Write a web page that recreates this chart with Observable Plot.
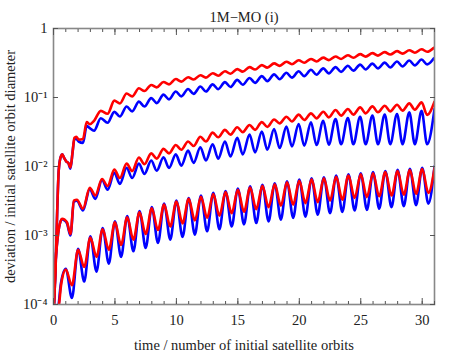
<!DOCTYPE html>
<html><head><meta charset="utf-8">
<script src="https://cdn.jsdelivr.net/npm/d3@7"></script>
<script src="https://cdn.jsdelivr.net/npm/@observablehq/plot@0.6"></script>
<style>body{margin:0;background:#fff}</style>
</head><body><div id="chart"></div>
<script>
const title = "1M\u2212MO (i)";
const xLabel = "time / number of initial satellite orbits";
const yLabel = "deviation / initial satellite orbit diameter";
const xMajorTicks = [0, 5, 10, 15, 20, 25, 30];
const xMinorTicks = d3.range(0, 32);
const yTicks = [1e-4, 1e-3, 1e-2, 1e-1, 1];
const yTickLabels = ["10\u207B\u2074", "10\u207B\u00B3", "10\u207B\u00B2", "10\u207B\u00B9", "1"];

// ---- top pair ----
const topOnsetT = [0.03, 0.16, 0.3, 0.43, 0.6, 0.72, 0.85, 1.05, 1.2, 1.38, 1.55, 1.7, 1.85, 2.05, 2.4, 2.7, 2.95, 3.3, 3.85];
const topRedOnset = [1e-4, 3e-4, 2.2e-3, 9e-3, 0.014, 0.015, 0.0135, 0.0118, 0.0113, 0.0097, 0.016, 0.026, 0.027, 0.0245, 0.025, 0.044, 0.041, 0.046, 0.064];
const topBlueOnset = [1e-4, 3e-4, 2.2e-3, 9e-3, 0.014, 0.015, 0.0135, 0.0118, 0.0113, 0.0093, 0.016, 0.025, 0.025, 0.023, 0.022, 0.039, 0.036, 0.033, 0.05];
const topPeakOrbits = d3.range(5, 32);
const topTroughOrbits = d3.range(4, 31);
const topRedPeaks = [0.09, 0.114, 0.136, 0.152, 0.168, 0.185, 0.197, 0.21, 0.225, 0.24, 0.258, 0.276, 0.295, 0.312, 0.33, 0.347, 0.362, 0.378, 0.393, 0.41, 0.425, 0.44, 0.455, 0.47, 0.485, 0.50, 0.525];
const topRedTroughs = [0.058, 0.082, 0.104, 0.124, 0.14, 0.155, 0.17, 0.182, 0.194, 0.207, 0.221, 0.237, 0.254, 0.271, 0.287, 0.304, 0.319, 0.333, 0.348, 0.362, 0.377, 0.391, 0.405, 0.419, 0.432, 0.446, 0.46];
const topBluePeaks = [0.062, 0.074, 0.087, 0.098, 0.11, 0.122, 0.133, 0.144, 0.155, 0.167, 0.18, 0.192, 0.204, 0.216, 0.228, 0.24, 0.252, 0.264, 0.276, 0.288, 0.30, 0.31, 0.32, 0.332, 0.343, 0.355, 0.37];
const topBlueTroughs = [0.043, 0.053, 0.063, 0.074, 0.083, 0.094, 0.104, 0.113, 0.122, 0.132, 0.142, 0.153, 0.163, 0.173, 0.184, 0.194, 0.204, 0.214, 0.224, 0.235, 0.245, 0.255, 0.264, 0.272, 0.282, 0.292, 0.302];

// ---- middle pair ----
const midOnsetT = [0.04, 0.16, 0.3, 0.45, 0.7, 0.9, 1.1, 1.38, 1.66, 1.9];
const midRedOnset = [1e-4, 3.9e-4, 8e-4, 1.3e-3, 1.75e-3, 1.7e-3, 1.55e-3, 1.05e-3, 3.2e-3, 3.3e-3];
const midBlueOnset = [1e-4, 3.9e-4, 8e-4, 1.3e-3, 1.72e-3, 1.65e-3, 1.5e-3, 1.0e-3, 3.1e-3, 3.2e-3];
const midPeakOrbits = d3.range(3, 31);
const midTroughOrbits = d3.range(2, 31);
const midRedPeaks = [4.9e-3, 6.6e-3, 9e-3, 0.011, 0.0135, 0.0155, 0.018, 0.0205, 0.023, 0.027, 0.031, 0.034, 0.037, 0.040, 0.044, 0.048, 0.0527, 0.0564, 0.0589, 0.0623, 0.0659, 0.0682, 0.0719, 0.0743, 0.076, 0.0787, 0.0822, 0.0849];
const midRedTroughs = [2.45e-3, 3.8e-3, 5.2e-3, 6.8e-3, 8.6e-3, 0.0108, 0.013, 0.0155, 0.0175, 0.0198, 0.023, 0.0265, 0.029, 0.0315, 0.034, 0.0375, 0.0422, 0.045, 0.0472, 0.0499, 0.0515, 0.0546, 0.0564, 0.0589, 0.061, 0.063, 0.0645, 0.0666, 0.056];
const midBluePeaks = [4.7e-3, 6.4e-3, 8.1e-3, 9.6e-3, 0.011, 0.0122, 0.0136, 0.015, 0.017, 0.019, 0.021, 0.023, 0.026, 0.029, 0.032, 0.035, 0.0378, 0.0413, 0.0436, 0.0461, 0.0489, 0.0505, 0.0527, 0.0546, 0.0564, 0.0577, 0.061, 0.0644];
const midBlueTroughs = [2.3e-3, 3.4e-3, 4.6e-3, 5.6e-3, 6.8e-3, 7.8e-3, 8.7e-3, 9.5e-3, 0.0103, 0.0113, 0.0122, 0.013, 0.014, 0.015, 0.016, 0.0175, 0.0185, 0.0195, 0.020, 0.0205, 0.0207, 0.021, 0.021, 0.021, 0.021, 0.021, 0.021, 0.021, 0.021];
const midEndT = [31];
const midRedEnd = [0.087];
const midBlueEnd = [0.068];

// ---- bottom pair ----
const botRedOnsetT = [0.33, 0.45, 0.63];
const botBlueOnsetT = [0.3, 0.42, 0.6];
const botRedOnset = [7e-5, 1e-4, 2e-4];
const botBlueOnset = [7e-5, 1e-4, 2e-4];
const botPeakOrbits = d3.range(1, 32);
const botTroughOrbits = d3.range(1, 31);
const botRedPeaks = [3.2e-4, 6.2e-4, 9.3e-4, 1.23e-3, 1.55e-3, 1.84e-3, 2.17e-3, 2.48e-3, 2.8e-3, 3.1e-3, 3.4e-3, 3.65e-3, 4.0e-3, 4.25e-3, 4.6e-3, 4.95e-3, 5.25e-3, 5.5e-3, 5.9e-3, 6.2e-3, 6.5e-3, 6.75e-3, 7.1e-3, 7.4e-3, 7.7e-3, 8.0e-3, 8.3e-3, 8.6e-3, 8.9e-3, 9.2e-3, 9.4e-3];
const botBluePeaks = [3.3e-4, 6.4e-4, 9.7e-4, 1.28e-3, 1.61e-3, 1.91e-3, 2.26e-3, 2.58e-3, 2.9e-3, 3.2e-3, 3.5e-3, 3.8e-3, 4.15e-3, 4.4e-3, 4.8e-3, 5.15e-3, 5.45e-3, 5.7e-3, 6.1e-3, 6.45e-3, 6.75e-3, 7.0e-3, 7.4e-3, 7.7e-3, 8.0e-3, 8.3e-3, 8.6e-3, 8.95e-3, 9.25e-3, 9.55e-3, 1.0e-2];
const botRedTroughs = [1.9e-4, 3.5e-4, 4.9e-4, 6.2e-4, 7.3e-4, 8.7e-4, 1.05e-3, 1.2e-3, 1.35e-3, 1.5e-3, 1.65e-3, 1.8e-3, 1.93e-3, 2.1e-3, 2.2e-3, 2.4e-3, 2.57e-3, 2.7e-3, 2.8e-3, 2.95e-3, 3.05e-3, 3.2e-3, 3.3e-3, 3.5e-3, 3.6e-3, 3.7e-3, 3.8e-3, 3.9e-3, 4.0e-3, 4.15e-3];
const botBlueTroughs = [1.24e-4, 2.15e-4, 3.0e-4, 3.9e-4, 4.9e-4, 5.9e-4, 6.6e-4, 7.8e-4, 8.7e-4, 9.5e-4, 1.03e-3, 1.15e-3, 1.23e-3, 1.35e-3, 1.45e-3, 1.52e-3, 1.6e-3, 1.7e-3, 1.8e-3, 1.88e-3, 2.0e-3, 2.1e-3, 2.2e-3, 2.3e-3, 2.35e-3, 2.45e-3, 2.57e-3, 2.66e-3, 2.75e-3, 2.9e-3];

// phase of extrema within an orbit
const phase = {top: {peak: -0.05, trough: 0.4}, mid: {peak: -0.05, trough: 0.4}, bot: {peak: 0, trough: 0.5}};

function build(key, color, parts) {
  const pts = [];
  for (const [ts, vs] of parts) ts.forEach((t, i) => pts.push({t, v: vs[i], key, color}));
  pts.sort((a, b) => a.t - b.t);
  return pts;
}
const shift = (orbits, d) => orbits.map(n => n + d);

const seriesList = [
  build("topBlue", "blue", [[topOnsetT, topBlueOnset], [shift(topPeakOrbits, phase.top.peak), topBluePeaks], [shift(topTroughOrbits, phase.top.trough), topBlueTroughs]]),
  build("midBlue", "blue", [[midOnsetT, midBlueOnset], [shift(midPeakOrbits, phase.mid.peak), midBluePeaks], [shift(midTroughOrbits, phase.mid.trough), midBlueTroughs], [midEndT, midBlueEnd]]),
  build("botBlue", "blue", [[botBlueOnsetT, botBlueOnset], [shift(botPeakOrbits, phase.bot.peak), botBluePeaks], [shift(botTroughOrbits, phase.bot.trough), botBlueTroughs]]),
  build("topRed", "red", [[topOnsetT, topRedOnset], [shift(topPeakOrbits, phase.top.peak), topRedPeaks], [shift(topTroughOrbits, phase.top.trough), topRedTroughs]]),
  build("midRed", "red", [[midOnsetT, midRedOnset], [shift(midPeakOrbits, phase.mid.peak), midRedPeaks], [shift(midTroughOrbits, phase.mid.trough), midRedTroughs], [midEndT, midRedEnd]]),
  build("botRed", "red", [[botRedOnsetT, botRedOnset], [shift(botPeakOrbits, phase.bot.peak), botRedPeaks], [shift(botTroughOrbits, phase.bot.trough), botRedTroughs]])
];

const font = "Liberation Serif, Times New Roman, serif";
const tickColor = "#555";
const fs = 14.5;
const lines = seriesList.map(pts => Plot.line(pts, {x: "t", y: "v", stroke: pts[0].color === "red" ? "#ff0000" : "#0000ff", strokeWidth: 2.6, curve: "monotone-x", clip: true}));

const chart = Plot.plot({
  width: 463, height: 354,
  marginLeft: 53, marginRight: 29, marginTop: 28, marginBottom: 50,
  style: {fontFamily: font, fontSize: fs + "px", color: "#222", background: "#fff"},
  x: {domain: [0, 31]},
  y: {type: "log", domain: [1e-4, 1]},
  marks: [
    ...lines,
    Plot.frame({stroke: "#888", strokeWidth: 1.6}),
    Plot.axisX({anchor: "bottom", ticks: xMinorTicks, tickSize: -3, tickFormat: () => "", stroke: tickColor, label: null}),
    Plot.axisX({anchor: "top", ticks: xMinorTicks, tickSize: -3, tickFormat: () => "", stroke: tickColor, label: null}),
    Plot.axisX({anchor: "bottom", ticks: xMajorTicks, tickSize: -6, tickPadding: 16, fontSize: fs, stroke: tickColor, label: xLabel, labelAnchor: "center", labelOffset: 45, labelArrow: "none"}),
    Plot.axisX({anchor: "top", ticks: xMajorTicks, tickSize: -6, tickFormat: () => "", stroke: tickColor, label: null}),
    Plot.axisY({anchor: "left", ticks: yTicks, tickSize: -5, tickPadding: 11, tickFormat: (d) => yTickLabels[yTicks.indexOf(d)], fontSize: fs, stroke: tickColor, label: yLabel, labelAnchor: "center", labelOffset: 49, labelArrow: "none"}),
    Plot.axisY({anchor: "right", ticks: yTicks, tickSize: -5, tickFormat: () => "", stroke: tickColor, label: null}),
    Plot.text([title], {frameAnchor: "top", dy: -17, fontSize: fs, fill: "#222"})
  ]
});
document.getElementById("chart").append(chart);
</script>
</body></html>
